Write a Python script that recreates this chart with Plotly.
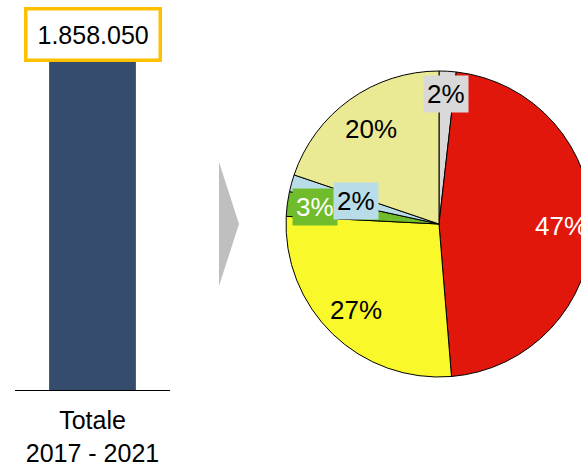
import math
import plotly.graph_objects as go

# ---- data ----
bar_categories = ["Totale<br>2017 - 2021"]
bar_values = [1858050]
bar_value_label = "1.858.050"

slice_names = ["Grigio", "Rosso", "Giallo", "Verde", "Azzurro", "Kaki"]
slice_values = [1.8, 46.9, 27.1, 2.6, 1.8, 19.8]
slice_labels = ["2%", "47%", "27%", "3%", "2%", "20%"]

# ---- styles ----
W, H = 600, 466
slice_colors = ["#D9D9D9", "#E2170B", "#F8F82A", "#70BC2C", "#B9DDE8", "#EAEA94"]
label_font_colors = ["black", "white", "black", "white", "black", "black"]
label_bg = ["#D9D9D9", "rgba(0,0,0,0)", "rgba(0,0,0,0)", "#70BC2C", "#B9DDE8", "rgba(0,0,0,0)"]
label_radius = [0.85, 0.80, 0.78, 0.82, 0.56, 0.76]
FONT = "Liberation Sans, Arial, sans-serif"

# pie geometry (pixels)
pcx, pcy, pr = 439, 224, 153

def px_x(x):
    return x / W

def px_y(y):
    return 1 - y / H

fig = go.Figure()

fig.add_trace(go.Bar(
    x=bar_categories, y=bar_values,
    marker=dict(color="#364C6C", line=dict(width=0)),
    xaxis="x", yaxis="y", showlegend=False, hoverinfo="skip",
))

fig.add_trace(go.Pie(
    labels=slice_names, values=slice_values,
    sort=False, direction="clockwise", rotation=0,
    marker=dict(colors=slice_colors, line=dict(color="black", width=1)),
    textinfo="none", showlegend=False,
    domain=dict(x=[px_x(pcx - pr), px_x(pcx + pr)], y=[px_y(pcy + pr), px_y(pcy - pr)]),
))

annotations = [dict(
    x=bar_categories[0], y=bar_values[0], xref="x", yref="y",
    text=bar_value_label, showarrow=False, yanchor="middle", yshift=25,
    font=dict(family=FONT, size=25, color="black"),
    bgcolor="white", bordercolor="#FFC000", borderwidth=3.5, borderpad=10,
)]

total = sum(slice_values)
cum = 0
for v, lab, fc, bg, rf in zip(slice_values, slice_labels, label_font_colors, label_bg, label_radius):
    mid = (cum + v / 2) / total * 2 * math.pi
    cum += v
    lx = pcx + rf * pr * math.sin(mid)
    ly = pcy - rf * pr * math.cos(mid)
    annotations.append(dict(
        x=px_x(lx), y=px_y(ly), xref="paper", yref="paper",
        text=lab, showarrow=False, xanchor="center", yanchor="middle",
        font=dict(family=FONT, size=26, color=fc),
        bgcolor=bg, borderpad=3,
    ))

fig.update_layout(
    width=W, height=H, autosize=False,
    margin=dict(l=0, r=0, t=0, b=0),
    paper_bgcolor="white", plot_bgcolor="white",
    font=dict(family=FONT, size=25, color="black"),
    bargap=0.44,
    xaxis=dict(domain=[px_x(15), px_x(170)], showline=True, linecolor="black", linewidth=1,
               ticks="", showgrid=False, zeroline=False, tickfont=dict(size=25),
               ticklabelstandoff=8),
    yaxis=dict(domain=[px_y(390), px_y(60)], range=[0, bar_values[0]], visible=False,
               showgrid=False, zeroline=False),
    annotations=annotations,
    shapes=[dict(type="path", xref="paper", yref="paper",
                 path=f"M {px_x(219)},{px_y(162)} L {px_x(239)},{px_y(224)} L {px_x(219)},{px_y(286)} Z",
                 fillcolor="#BFBFBF", line=dict(width=0))],
)

fig.write_html("out.html", config={"displayModeBar": False},
               post_script=("document.documentElement.style.overflow='hidden';"
                            "document.body.style.overflow='hidden';"
                            "document.body.style.margin='0';"))
